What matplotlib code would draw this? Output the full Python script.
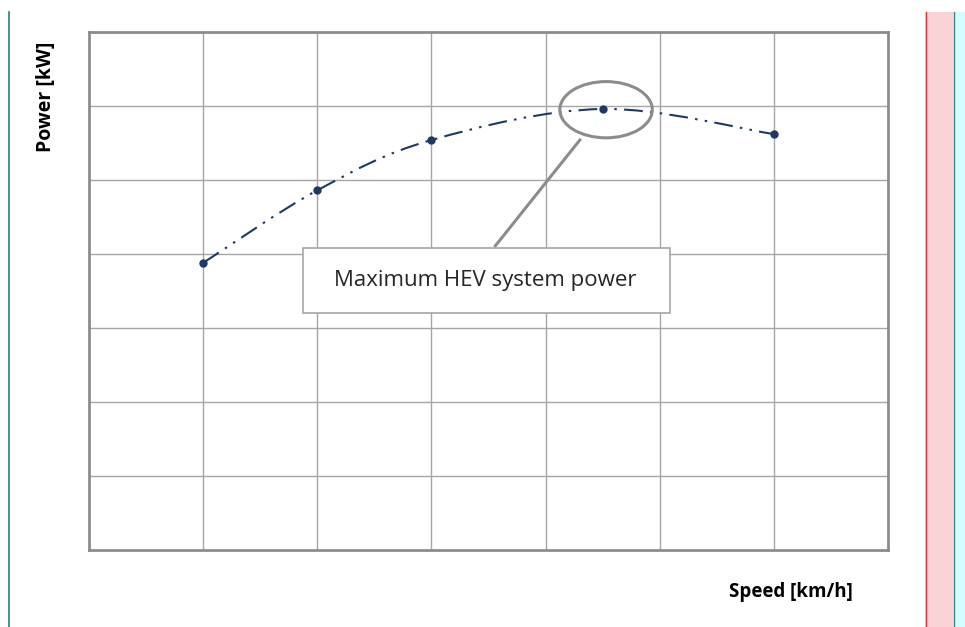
import numpy as np
import matplotlib.pyplot as plt
from matplotlib.path import Path
from matplotlib.patches import PathPatch, Ellipse, Rectangle
from matplotlib.lines import Line2D

# data (grid units)
speed = [1.0, 2.0, 3.0, 4.5, 6.0]
power = [3.88, 4.86, 5.54, 5.96, 5.62]
x_label = "Speed [km/h]"
y_label = "Power [kW]"
callout = "Maximum HEV system power"

W, H = 965, 627
fig = plt.figure(figsize=(W / 100, H / 100), dpi=100)
fig.patch.set_facecolor("white")

# axes placed by pixel box
left, right, top, bottom = 89, 888, 32, 550
ax = fig.add_axes([left / W, (H - bottom) / H, (right - left) / W, (bottom - top) / H])
ax.set_xlim(0, 7)
ax.set_ylim(0, 7)
ax.set_xticks(np.arange(1, 7))
ax.set_yticks(np.arange(1, 7))
ax.tick_params(length=0, labelbottom=False, labelleft=False)
ax.grid(True, color="#a6a6a6", lw=1.0)
ax.set_axisbelow(True)
for s in ax.spines.values():
    s.set_color("#8c8c8c")
    s.set_linewidth(2.0)

# smoothed line (catmull-rom -> bezier path, like Excel smoothing)
pts = np.column_stack([speed, power])
verts = [tuple(pts[0])]
codes = [Path.MOVETO]
n = len(pts)
for i in range(n - 1):
    p0 = pts[max(i - 1, 0)]
    p1 = pts[i]
    p2 = pts[i + 1]
    p3 = pts[min(i + 2, n - 1)]
    c1 = p1 + (p2 - p0) / 6.0
    c2 = p2 - (p3 - p1) / 6.0
    verts += [tuple(c1), tuple(c2), tuple(p2)]
    codes += [Path.CURVE4] * 3
curve = PathPatch(Path(verts, codes), fill=False, edgecolor="#1f3864", lw=1.5,
                  linestyle=(0, (9, 3.5, 1.2, 3.5, 1.2, 3.5)), zorder=3)
ax.add_patch(curve)
ax.plot(speed, power, "o", color="#1f3864", ms=5, zorder=4)

# callout
ax.add_patch(Ellipse((4.53, 5.95), 0.81, 0.76, fill=False, edgecolor="#8c8c8c", lw=2.2, zorder=5))
ax.plot([3.56, 4.30], [4.11, 5.54], color="#8c8c8c", lw=2.2, zorder=5)
ax.add_patch(Rectangle((1.875, 3.20), 3.215, 0.88, facecolor="white", edgecolor="#a6a6a6",
                       lw=1.2, zorder=6))
ax.text(3.47, 3.64, callout, ha="center", va="center", fontsize=16,
        family="Open Sans", color="#262626", zorder=7)

# axis titles
fig.text(46 / W, 1 - 97 / H, y_label, rotation=90, ha="center", va="center",
         fontsize=14, fontweight="bold", family="Open Sans", color="black")
fig.text(791 / W, 1 - 592 / H, x_label, ha="center", va="center",
         fontsize=13.5, fontweight="bold", family="Open Sans", color="black")

# page edges around the chart
fig.add_artist(Line2D([8.5 / W, 8.5 / W], [0, 1 - 12 / H], color="#2e7d7a", lw=1.2))
fig.add_artist(Rectangle((925 / W, 0), 28 / W, 1 - 12 / H, facecolor="#f9d3d6",
                         edgecolor="none", transform=fig.transFigure))
fig.add_artist(Rectangle((953 / W, 0), 12 / W, 1 - 12 / H, facecolor="#d4fbfd",
                         edgecolor="none", transform=fig.transFigure))
fig.add_artist(Line2D([926 / W, 926 / W], [0, 1 - 12 / H], color="#e8303a", lw=1.0))
fig.add_artist(Line2D([953.5 / W, 953.5 / W], [0, 1 - 12 / H], color="#2e8a8a", lw=1.0))

fig.savefig("out.png", dpi=100)
